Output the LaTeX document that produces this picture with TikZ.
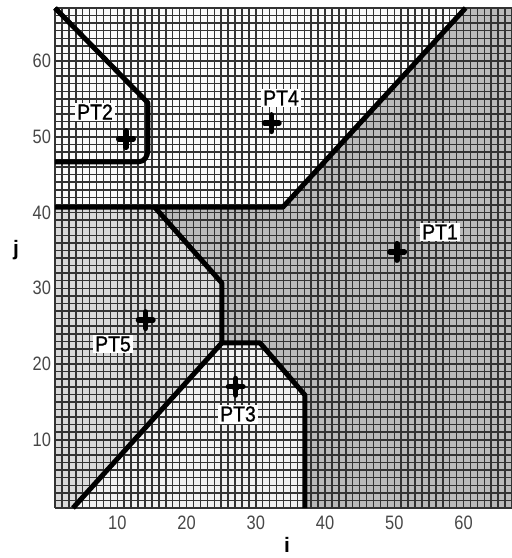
\documentclass[tikz,border=0pt]{standalone}
\usepackage{fontspec}
\setmainfont{Liberation Sans}
\newfontfamily\heavysans[FakeBold=1.2]{Liberation Sans}
\usepackage{graphicx}
\begin{document}
\begin{tikzpicture}[x=1bp,y=-1bp,
  gridline/.style={draw=black!80,line width=1.5bp},
  bound/.style={line width=5bp,black,line join=round},
  plusmark/.style={line width=5.4bp,line cap=round,black},
  ptlabel/.style={fill=white,inner sep=1.8bp,font=\fontsize{19.5}{19.5}\heavysans},
  ticklab/.style={text=black!72,inner sep=0pt,font=\fontsize{16.5}{16.5}\selectfont},
  axlab/.style={inner sep=0pt,font=\fontsize{21}{21}\selectfont\bfseries}]
\useasboundingbox (0,0) rectangle (512,558);
\fill[white] (0,0) rectangle (512,558);
\begin{scope}[shift={(48.076,515.576)},x=6.924bp,y=7.576bp]
  % region fills
  \fill[white!98!black] (1,1) rectangle (67,67);
  \fill[black!27] (33.9,40.7) -- (60.3,67) -- (67,67) -- (67,1) -- (37.1,1) -- (37.1,15.9)
     -- (30.6,22.8) -- (25.1,22.8) -- (25.1,30.7) -- (15.4,40.7) -- cycle;
  \fill[black!15] (1,40.7) -- (15.4,40.7) -- (25.1,30.7) -- (25.1,22.8) -- (3.6,1) -- (1,1) -- cycle;
  \fill[black!6] (3.6,1) -- (25.1,22.8) -- (30.6,22.8) -- (37.1,15.9) -- (37.1,1) -- cycle;
  % grid
  \foreach \k in {1,...,67} {
    \draw[gridline] (\k,1) -- (\k,67);
    \draw[gridline] (1,\k) -- (67,\k);
  }
  % boundaries
  \draw[bound] (1,40.7) -- (33.9,40.7) -- (60.3,67);
  \draw[bound] (15.4,40.7) -- (25.1,30.7) -- (25.1,22.8) -- (30.6,22.8) -- (37.1,15.9) -- (37.1,1);
  \draw[bound] (25.1,22.8) -- (3.6,1);
  \draw[bound] (1,67) -- (14.4,54.5) -- (14.4,48.2) to[out=-90,in=0] (13.1,46.7) -- (1,46.7);
  % sites
  \coordinate (p1) at (50.4,34.8);
  \coordinate (p2) at (11.25,49.7);
  \coordinate (p3) at (27.1,17.0);
  \coordinate (p4) at (32.3,51.8);
  \coordinate (p5) at (14.1,25.8);
  \foreach \p in {p1,p2,p3,p4,p5} {
    \draw[plusmark] (\p) +(-7.3bp,0) -- +(7.3bp,0);
    \draw[plusmark] (\p) +(0,-8.3bp) -- +(0,8.3bp);
    \fill (\p) circle (4.2bp);
  }
  % tick labels
  \foreach \k in {10,20,...,60} {
    \node[ticklab] (tx\k) at (\k,-0.98) {\scalebox{1}[1.18]{\k}};
    \node[ticklab,anchor=east] (ty\k) at (0.45,\k) {\scalebox{1}[1.18]{\k}};
  }
\end{scope}
% site labels
\node[ptlabel] (l1) at (440,232) {\scalebox{1}[1.12]{PT1}};
\node[ptlabel] (l2) at (95,112) {\scalebox{1}[1.12]{PT2}};
\node[ptlabel] (l3) at (238,414) {\scalebox{1}[1.12]{PT3}};
\node[ptlabel] (l4) at (281,98) {\scalebox{1}[1.12]{PT4}};
\node[ptlabel] (l5) at (113,344) {\scalebox{1}[1.12]{PT5}};
% axis labels
\node[axlab] (xl) at (287,545) {i};
\node[axlab] (yl) at (16,250) {j};
\end{tikzpicture}
\end{document}
